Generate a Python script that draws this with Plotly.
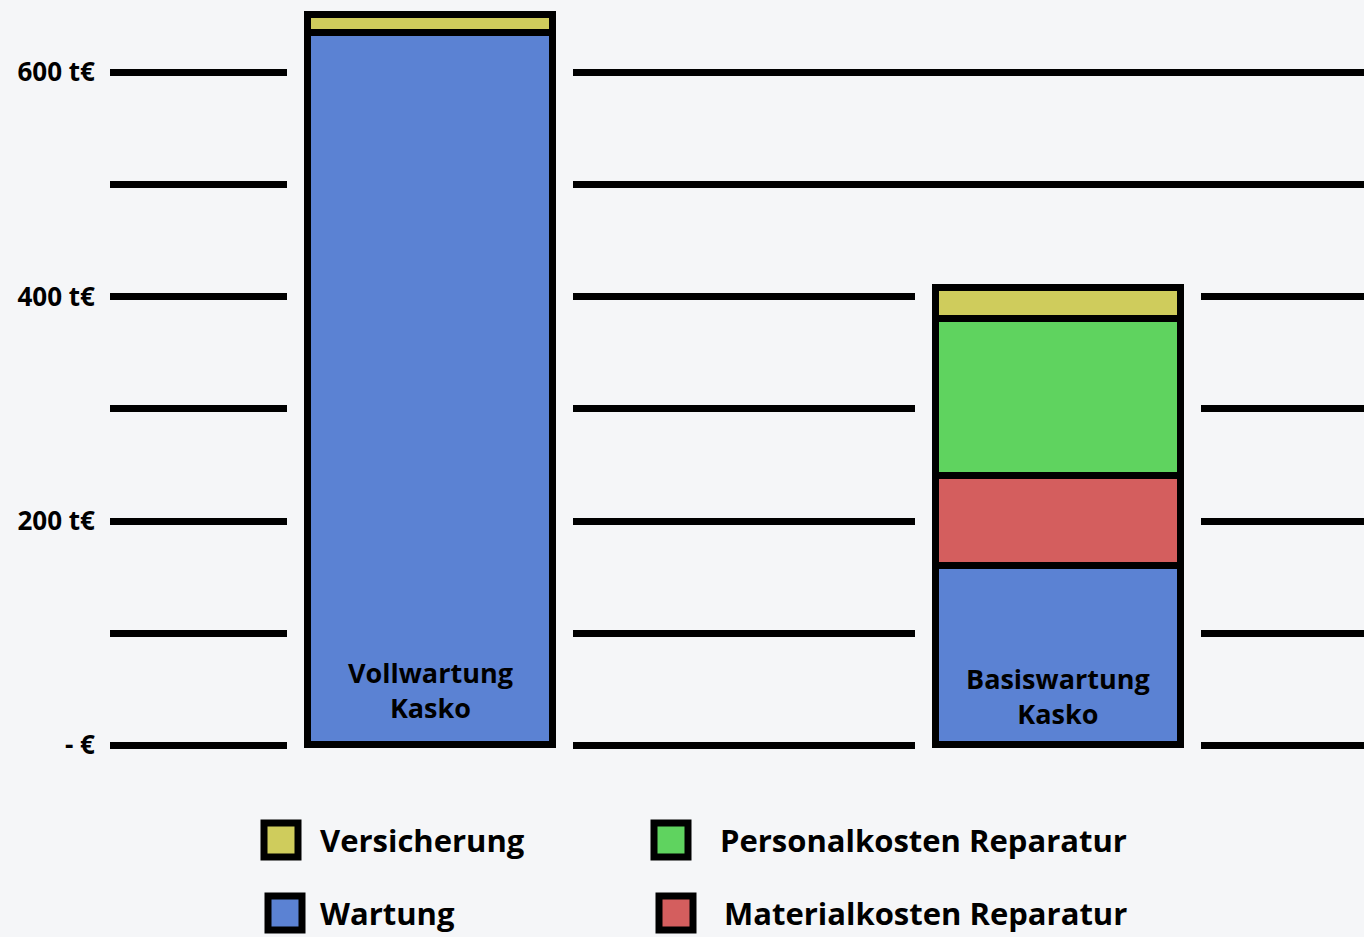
import numpy as np
import plotly.graph_objects as go

categories = ["Vollwartung Kasko", "Basiswartung Kasko"]
bar_labels = ["Vollwartung<br>Kasko", "Basiswartung<br>Kasko"]
series_names = ["Wartung", "Materialkosten Reparatur", "Personalkosten Reparatur", "Versicherung"]
wartung = [635, 160]
material = [0, 80]
personal = [0, 140]
versicherung = [16, 28]
tick_vals = [0, 100, 200, 300, 400, 500, 600]
tick_text = ["- €", "", "200 t€", "", "400 t€", "", "600 t€"]

colors = {
    "Wartung": "#5b82d3",
    "Materialkosten Reparatur": "#d45e5e",
    "Personalkosten Reparatur": "#5fd35f",
    "Versicherung": "#cfcc5c",
}
BG = "#f5f6f8"
FONT = "Open Sans"

series = [wartung, material, personal, versicherung]
stack = np.array(series, dtype=float)
bases = np.vstack([np.zeros(stack.shape[1]), np.cumsum(stack, axis=0)[:-1]])
totals = stack.sum(axis=0)

fig = go.Figure()
# halo behind bars to break the grid lines
fig.add_trace(go.Bar(
    x=categories, y=totals + 18, base=-10, width=0.455,
    marker=dict(color=BG, line=dict(width=0)), showlegend=False, hoverinfo="skip"))

for name, vals, b in zip(series_names, series, bases):
    v = np.array(vals, dtype=float)
    fig.add_trace(go.Bar(
        x=categories, y=v, base=b, width=0.39, name=name,
        marker=dict(color=colors[name], line=dict(color="black", width=7)),
        showlegend=False))

for cat, lab, yv in zip(categories, bar_labels, [49, 44]):
    fig.add_annotation(x=cat, y=yv, text=lab, showarrow=False,
                       font=dict(family=FONT, size=27, color="black", weight="bold"))

# manual legend (large swatches)
PL, PW, PB, PH = 110, 1254, 751, 746
legend_items = [
    ("Versicherung", 281, 840, 318),
    ("Personalkosten Reparatur", 671, 840, 718),
    ("Wartung", 285, 913, 318),
    ("Materialkosten Reparatur", 676, 913, 722),
]
half = 17
for name, cx, cy, tx in legend_items:
    fig.add_shape(type="rect", xref="paper", yref="paper",
                  x0=(cx - half - PL) / PW, x1=(cx + half - PL) / PW,
                  y0=(PB - (cy + half)) / PH, y1=(PB - (cy - half)) / PH,
                  fillcolor=colors[name], line=dict(color="black", width=7))
    fig.add_annotation(xref="paper", yref="paper", x=(tx - PL) / PW, y=(PB - cy) / PH,
                       xanchor="left", yanchor="middle", text=name, showarrow=False,
                       font=dict(family=FONT, size=31, color="black", weight="bold"))

fig.update_layout(
    width=1364, height=937,
    margin=dict(l=110, r=0, t=5, b=186),
    paper_bgcolor=BG, plot_bgcolor=BG,
    barmode="overlay", bargap=0,
    showlegend=False,
    xaxis=dict(range=[-0.5096, 1.487], showticklabels=False, showgrid=False,
               zeroline=False, showline=False, ticks=""),
    yaxis=dict(range=[-5, 660], tickvals=tick_vals, ticktext=tick_text,
               showgrid=True, gridcolor="black", gridwidth=7, zeroline=False,
               showline=False, ticks="", ticklabelstandoff=14,
               tickfont=dict(family=FONT, size=26, color="black", weight="bold")),
)

fig.write_html("out.html", config={"displayModeBar": False},
               post_script="document.body.style.margin='0';document.body.style.background='%s';" % BG)
